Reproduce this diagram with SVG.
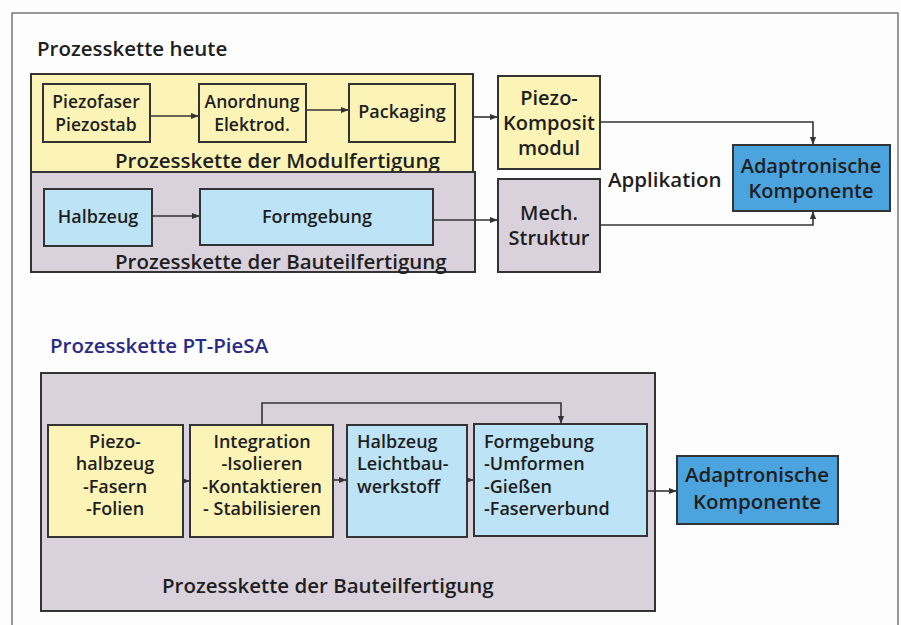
<svg xmlns="http://www.w3.org/2000/svg" width="901" height="625" viewBox="0 0 901 625">
<style>
text{font-family:"Open Sans","Noto Sans","Liberation Sans",sans-serif;fill:#1e1e1e;font-weight:600}
.h{font-size:20.5px}
.m{font-size:20px}
.t{font-size:18px}
.s{font-size:17.5px}
.c{text-anchor:middle}
.cont{stroke:#333;stroke-width:2}
.box{stroke:#333;stroke-width:2}
.y{fill:#fbf4b6}
.g{fill:#d9d2dc}
.lb{fill:#bde3f6}
.mb{fill:#4ba4de}
.conn path{fill:none;stroke:#333;stroke-width:1.6}
</style>
<defs>
<marker id="a" viewBox="0 0 10 10" refX="9" refY="5" markerWidth="5" markerHeight="5" orient="auto" markerUnits="strokeWidth">
<path d="M0,1 L10,5 L0,9 z" fill="#333"/>
</marker>
</defs>
<rect x="0" y="0" width="901" height="625" fill="#fdfdfd"/>
<path d="M12,625 V13 H898 V625" fill="none" stroke="#777" stroke-width="1.5"/>

<text class="h" x="37" y="56">Prozesskette heute</text>

<g id="modulfertigung">
<rect class="cont y" x="31" y="74" width="442" height="98"/>
<text class="h" x="115" y="168">Prozesskette der Modulfertigung</text>
</g>
<g id="bauteilfertigung-heute">
<rect class="cont g" x="31" y="172" width="444" height="100"/>
<text class="h" x="115" y="269">Prozesskette der Bauteilfertigung</text>
</g>

<g id="piezofaser">
<rect class="box y" x="43" y="84" width="107" height="58"/>
<text class="s c" x="96" y="108">Piezofaser</text>
<text class="s c" x="96" y="131">Piezostab</text>
</g>
<g id="anordnung">
<rect class="box y" x="199" y="84" width="107" height="58"/>
<text class="s c" x="252" y="108">Anordnung</text>
<text class="s c" x="252" y="131">Elektrod.</text>
</g>
<g id="packaging">
<rect class="box y" x="349" y="84" width="106" height="58"/>
<text class="t c" x="402" y="118">Packaging</text>
</g>
<g id="halbzeug-heute">
<rect class="box lb" x="44" y="189" width="108" height="57"/>
<text class="t c" x="98" y="223">Halbzeug</text>
</g>
<g id="formgebung-heute">
<rect class="box lb" x="200" y="189" width="233" height="56"/>
<text class="t c" x="317" y="223">Formgebung</text>
</g>
<g id="piezokomposit">
<rect class="box y" x="498" y="76" width="102" height="93"/>
<text class="m c" x="549" y="105">Piezo-</text>
<text class="m c" x="549" y="130">Komposit</text>
<text class="m c" x="549" y="155">modul</text>
</g>
<g id="mechstruktur">
<rect class="box g" x="498" y="179" width="102" height="93"/>
<text class="m c" x="549" y="220">Mech.</text>
<text class="m c" x="549" y="245">Struktur</text>
</g>
<text class="h" x="608" y="187" font-weight="700">Applikation</text>
<g id="adaptronisch-heute">
<rect class="box mb" x="733" y="145" width="157" height="66"/>
<text class="m c" x="811" y="173">Adaptronische</text>
<text class="m c" x="811" y="198">Komponente</text>
</g>

<text class="h" x="50" y="353" style="fill:#2b2b85">Prozesskette PT-PieSA</text>

<g id="bauteilfertigung-pt">
<rect class="cont g" x="41" y="373" width="614" height="238"/>
<text class="h" x="162" y="593">Prozesskette der Bauteilfertigung</text>
</g>
<g id="piezohalbzeug">
<rect class="box y" x="48" y="425" width="135" height="112"/>
<text class="t c" x="115" y="448">Piezo-</text>
<text class="t c" x="115" y="470">halbzeug</text>
<text class="t c" x="115" y="493">-Fasern</text>
<text class="t c" x="115" y="515">-Folien</text>
</g>
<g id="integration">
<rect class="box y" x="190" y="425" width="143" height="112"/>
<text class="t c" x="262" y="448">Integration</text>
<text class="t c" x="262" y="470">-Isolieren</text>
<text class="t c" x="262" y="493">-Kontaktieren</text>
<text class="t c" x="262" y="515">- Stabilisieren</text>
</g>
<g id="halbzeug-pt">
<rect class="box lb" x="347" y="425" width="120" height="112"/>
<text class="t" x="357" y="448">Halbzeug</text>
<text class="t" x="357" y="470">Leichtbau-</text>
<text class="t" x="357" y="493">werkstoff</text>
</g>
<g id="formgebung-pt">
<rect class="box lb" x="474" y="424" width="173" height="112"/>
<text class="t" x="484" y="448">Formgebung</text>
<text class="t" x="484" y="470">-Umformen</text>
<text class="t" x="484" y="493">-Gießen</text>
<text class="t" x="484" y="515">-Faserverbund</text>
</g>
<g id="adaptronisch-pt">
<rect class="box mb" x="677" y="456" width="161" height="68"/>
<text class="h c" x="757" y="482">Adaptronische</text>
<text class="h c" x="757" y="509">Komponente</text>
</g>

<g class="conn" id="connectors">
<path d="M150,116 H198" marker-end="url(#a)"/>
<path d="M306,110 H348" marker-end="url(#a)"/>
<path d="M473,117 H497" marker-end="url(#a)"/>
<path d="M152,216 H199" marker-end="url(#a)"/>
<path d="M433,220 H497" marker-end="url(#a)"/>
<path d="M600,122 H813 V144" marker-end="url(#a)"/>
<path d="M600,225 H813 V212" marker-end="url(#a)"/>
<path d="M183,481 H189" marker-end="url(#a)"/>
<path d="M333,480 H346" marker-end="url(#a)"/>
<path d="M467,480 H473" marker-end="url(#a)"/>
<path d="M647,491 H676" marker-end="url(#a)"/>
<path d="M262,425 V403 H561 V423" marker-end="url(#a)"/>
</g>
</svg>
